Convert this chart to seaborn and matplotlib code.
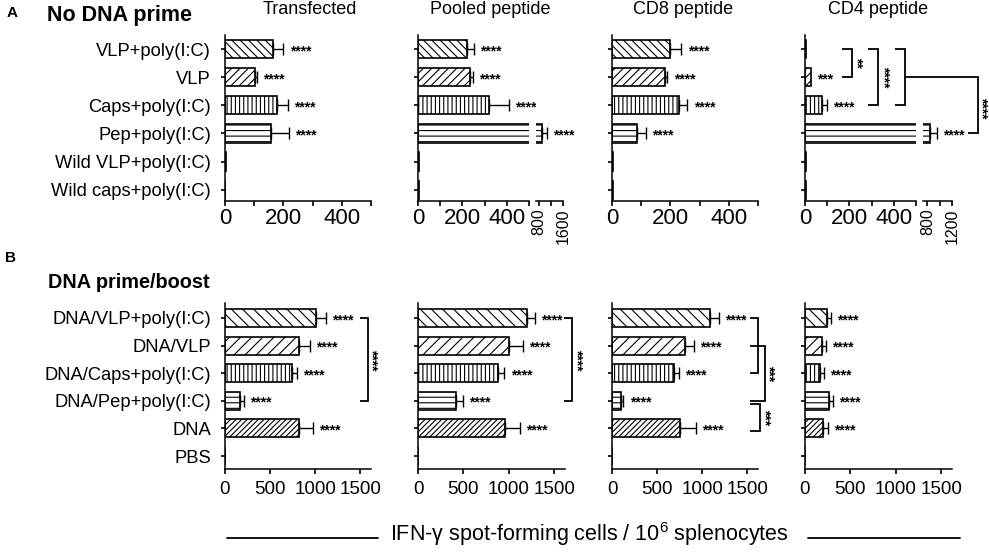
import numpy as np
import pandas as pd
import matplotlib
matplotlib.use('Agg')
import matplotlib.pyplot as plt
import seaborn as sns
from matplotlib import transforms
from matplotlib.lines import Line2D

sns.set_theme(style='ticks', rc={'axes.edgecolor': 'black', 'xtick.color': 'black',
                                 'ytick.color': 'black', 'text.color': 'black',
                                 'axes.linewidth': 1.1})
plt.rcParams['font.family'] = ['Liberation Sans', 'DejaVu Sans']
plt.rcParams['mathtext.fontset'] = 'custom'
plt.rcParams['mathtext.rm'] = 'Liberation Sans'
plt.rcParams['mathtext.it'] = 'Liberation Sans:italic'
plt.rcParams['hatch.linewidth'] = 0.8

# ---------------- data ----------------
groups_a = ["VLP+poly(I:C)", "VLP", "Caps+poly(I:C)", "Pep+poly(I:C)",
            "Wild VLP+poly(I:C)", "Wild caps+poly(I:C)"]
groups_b = ["DNA/VLP+poly(I:C)", "DNA/VLP", "DNA/Caps+poly(I:C)",
            "DNA/Pep+poly(I:C)", "DNA", "PBS"]
panel_titles = ["Transfected", "Pooled peptide", "CD8 peptide", "CD4 peptide"]

a_transfected = [165, 103, 178, 158, 3, 1]
a_transfected_err = [35, 5, 37, 60, 0, 0]
a_pooled = [220, 234, 320, 900, 6, 3]
a_pooled_err = [32, 14, 90, 167, 0, 0]
a_cd8 = [200, 180, 228, 86, 3, 3]
a_cd8_err = [38, 10, 30, 31, 0, 0]
a_cd4 = [4, 27, 77, 843, 5, 3]
a_cd4_err = [0, 0, 22, 114, 0, 0]

b_transfected = [1006, 816, 743, 165, 816, 0]
b_transfected_err = [110, 124, 55, 47, 157, 0]
b_pooled = [1201, 1004, 884, 418, 963, 0]
b_pooled_err = [86, 153, 67, 78, 156, 0]
b_cd8 = [1092, 805, 692, 98, 757, 0]
b_cd8_err = [98, 105, 48, 29, 171, 0]
b_cd4 = [245, 183, 165, 267, 201, 0]
b_cd4_err = [40, 47, 44, 44, 55, 0]

stars_a_std = ["****", "****", "****", "****", "", ""]
stars_a_cd4 = ["", "***", "****", "****", "", ""]
stars_b = ["****", "****", "****", "****", "****", ""]

hatch_a = ['\\\\\\\\', '////', '||||', '---', '', '']
hatch_b = ['\\\\\\', '///', '||||', '---', '//////', '']

# ---------------- layout ----------------
W, H = 989, 553
fig = plt.figure(figsize=(W / 100, H / 100), dpi=100)


def make_axes(l, r, t, b):
    return fig.add_axes([l / W, 1 - b / H, (r - l) / W, (b - t) / H])


YL_A = (5.4, -0.5)
YL_B = (5.47, -0.54)
LW = 1.2
STAR_FS = 10


def panel(ax, cats, vals, errs, hatches, stars, xlim, ylim, rows=None):
    df = pd.DataFrame({'group': cats, 'value': vals})
    sns.barplot(data=df, x='value', y='group', order=cats, orient='h', color='white',
                edgecolor='black', linewidth=LW, width=0.65, errorbar=None, ax=ax)
    for p, h in zip(ax.patches, hatches):
        p.set_facecolor('white')
        p.set_hatch(h)
    if rows is None:
        rows = range(len(cats))
    ys = [i for i in rows if errs[i] > 0]
    if ys:
        ax.errorbar([vals[i] for i in ys], ys,
                    xerr=[[0] * len(ys), [errs[i] for i in ys]],
                    fmt='none', ecolor='black', elinewidth=1.0, capsize=4, capthick=1.0)
    for i in rows:
        if stars[i]:
            ax.annotate(stars[i], xy=(vals[i] + errs[i], i), xytext=(4.5, -4.4),
                        textcoords='offset points', ha='left', va='baseline',
                        fontsize=STAR_FS, fontweight='bold', annotation_clip=False)
    ax.set_xlim(*xlim)
    ax.set_ylim(*ylim)
    ax.set_xlabel('')
    ax.set_ylabel('')
    sns.despine(ax=ax)
    ax.tick_params(axis='y', length=3, width=LW, labelsize=13.2, pad=7)


def xticks_a(ax):
    ax.set_xticks([0, 200, 400])
    ax.set_xticks([100, 300, 500], minor=True)
    ax.tick_params(axis='x', which='both', length=3.5, width=LW, labelsize=16, pad=1.5)


def xticks_b(ax):
    ax.set_xticks([0, 500, 1000, 1500])
    ax.tick_params(axis='x', which='both', length=3.5, width=LW, labelsize=13.5, pad=5)


def seg2(ax, ticks, minor):
    ax.spines['left'].set_visible(False)
    ax.set_yticks([])
    ax.set_xticks(ticks)
    ax.set_xticks(minor, minor=True)
    ax.tick_params(axis='x', which='both', length=3.5, width=LW, labelsize=11.5,
                   labelrotation=90, pad=2)


def pline(ax, xs_px, ys, lw=1.3):
    tr = transforms.blended_transform_factory(fig.transFigure, ax.transData)
    fig.add_artist(Line2D([x / W for x in xs_px], ys, transform=tr, color='black',
                          lw=lw, solid_capstyle='butt', solid_joinstyle='miter'))


def bracket(ax, x_px, arm, y0, y1):
    pline(ax, [x_px - arm, x_px, x_px, x_px - arm], [y0, y0, y1, y1])


def vstar(ax, x_px, y, s):
    tr = transforms.blended_transform_factory(fig.transFigure, ax.transData)
    fig.text((x_px - 3.5) / W, y, s, transform=tr, rotation=-90, ha='center', va='center',
             fontsize=STAR_FS, fontweight='bold')


# ---------------- Panel A ----------------
ax = make_axes(225, 371, 35, 201)
panel(ax, groups_a, a_transfected, a_transfected_err, hatch_a, stars_a_std, (0, 500), YL_A)
xticks_a(ax)

ax1 = make_axes(418, 529, 35, 201)
panel(ax1, groups_a, a_pooled, a_pooled_err, hatch_a, stars_a_std, (0, 500), YL_A,
      rows=[0, 1, 2, 4, 5])
xticks_a(ax1)
ax1.tick_params(axis='y', labelleft=False)
ax2 = make_axes(536, 563, 35, 201)
panel(ax2, groups_a, a_pooled, a_pooled_err, hatch_a, stars_a_std, (700, 1600), YL_A,
      rows=[3])
seg2(ax2, [800, 1600], [1200])

ax = make_axes(612, 758, 35, 201)
panel(ax, groups_a, a_cd8, a_cd8_err, hatch_a, stars_a_std, (0, 500), YL_A)
xticks_a(ax)
ax.tick_params(axis='y', labelleft=False)

ax_cd4 = make_axes(805, 916, 35, 201)
panel(ax_cd4, groups_a, a_cd4, a_cd4_err, hatch_a, stars_a_cd4, (0, 500), YL_A,
      rows=[0, 1, 2, 4, 5])
xticks_a(ax_cd4)
ax_cd4.tick_params(axis='y', labelleft=False)
ax4 = make_axes(923, 952, 35, 201)
panel(ax4, groups_a, a_cd4, a_cd4_err, hatch_a, stars_a_cd4, (730, 1200), YL_A, rows=[3])
seg2(ax4, [800, 1200], [1000])

# CD4 brackets
bracket(ax_cd4, 852, 10, 0, 1)
vstar(ax_cd4, 860, 0.47, "**")
bracket(ax_cd4, 878, 10, 0, 2)
vstar(ax_cd4, 887, 1.0, "****")
bracket(ax_cd4, 905, 10, 0, 2)
pline(ax_cd4, [905, 978, 978, 968], [1, 1, 3, 3])
vstar(ax_cd4, 985, 2.1, "****")

# ---------------- Panel B ----------------
bvals = [(b_transfected, b_transfected_err), (b_pooled, b_pooled_err),
         (b_cd8, b_cd8_err), (b_cd4, b_cd4_err)]
bx = [(225, 371), (418, 565), (612, 758), (805, 952)]
baxes = []
for k, ((v, e), (l, r)) in enumerate(zip(bvals, bx)):
    ax = make_axes(l, r, 303, 469)
    panel(ax, groups_b, v, e, hatch_b, stars_b, (0, 1620), YL_B)
    xticks_b(ax)
    if k > 0:
        ax.tick_params(axis='y', labelleft=False)
    baxes.append(ax)

bracket(baxes[0], 368, 8, 0, 3)
vstar(baxes[0], 375, 1.5, "****")
bracket(baxes[1], 572, 8, 0, 3)
vstar(baxes[1], 580, 1.5, "****")
bracket(baxes[2], 758, 8, 0, 2)
bracket(baxes[2], 765, 15, 1, 3)
vstar(baxes[2], 772, 2.0, "***")
bracket(baxes[2], 760, 10, 3.1, 4.1)
vstar(baxes[2], 768, 3.6, "***")

# ---------------- titles & labels ----------------
title_x = [310, 490, 683, 878]
for t, x in zip(panel_titles, title_x):
    fig.text(x / W, 1 - 10 / H, t, ha='center', va='center', fontsize=13)

fig.text(7 / W, 1 - 13 / H, "A", ha='left', va='center', fontsize=11, fontweight='bold')
fig.text(47 / W, 1 - 16 / H, "No DNA prime", ha='left', va='center', fontsize=15.5,
         fontweight='bold')
fig.text(5 / W, 1 - 258 / H, "B", ha='left', va='center', fontsize=11, fontweight='bold')
fig.text(48 / W, 1 - 283 / H, "DNA prime/boost", ha='left', va='center', fontsize=14.3,
         fontweight='bold')

fig.text(589 / W, 1 - 534 / H, r"IFN-γ spot-forming cells / 10$^{\mathrm{6}}$ splenocytes",
         ha='center', va='center', fontsize=15.5)
for x0, x1 in [(227, 378), (808, 960)]:
    fig.add_artist(Line2D([x0 / W, x1 / W], [1 - 538 / H] * 2, transform=fig.transFigure,
                          color='black', lw=1.3))

fig.savefig('out.png', dpi=100)
